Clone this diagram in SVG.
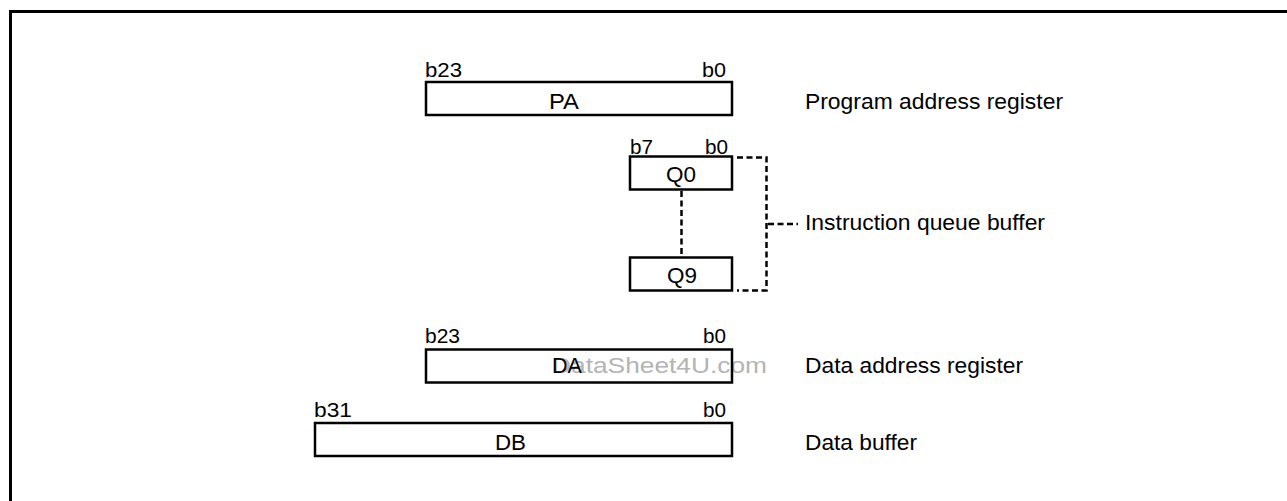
<svg xmlns="http://www.w3.org/2000/svg" width="1287" height="501" viewBox="0 0 1287 501">
<style>
.box{fill:#fff;stroke:#000;stroke-width:2.5}
.t{font-family:"Liberation Sans",Arial,sans-serif;font-size:20px;fill:#000}
.lbl{font-family:"Liberation Sans",Arial,sans-serif;font-size:22px;fill:#000}
.dash{fill:none;stroke:#000;stroke-width:2.5;stroke-dasharray:6 3.5}
.wm{font-family:"Liberation Sans",Arial,sans-serif;font-size:22px;fill:#b4b4b4}
</style>
<rect width="1287" height="501" fill="#fff"/>
<path d="M10.5,501 V11.5 H1287" fill="none" stroke="#000" stroke-width="3"/>

<text class="wm" x="552" y="373" textLength="215" lengthAdjust="spacingAndGlyphs">DataSheet4U.com</text>

<g id="PA">
<rect class="box" x="426" y="82" width="306" height="33"/>
<text class="t" x="425" y="76.5" textLength="37" lengthAdjust="spacingAndGlyphs">b23</text>
<text class="t" x="702" y="76.5" textLength="24" lengthAdjust="spacingAndGlyphs">b0</text>
<text class="lbl" x="549" y="109" textLength="30" lengthAdjust="spacingAndGlyphs">PA</text>
</g>
<g id="Q0">
<rect class="box" x="630" y="156.5" width="102" height="33"/>
<text class="t" x="630" y="153.5" textLength="23" lengthAdjust="spacingAndGlyphs">b7</text>
<text class="t" x="705" y="153.5" textLength="23" lengthAdjust="spacingAndGlyphs">b0</text>
<text class="lbl" x="666" y="181.5" textLength="30" lengthAdjust="spacingAndGlyphs">Q0</text>
</g>
<g id="Q9">
<rect class="box" x="630" y="257.5" width="102" height="33"/>
<text class="lbl" x="667" y="283" textLength="30" lengthAdjust="spacingAndGlyphs">Q9</text>
</g>
<g id="DA">
<rect class="box" x="426" y="349.5" width="306" height="33" style="fill:none"/>
<text class="t" x="425" y="343" textLength="35" lengthAdjust="spacingAndGlyphs">b23</text>
<text class="t" x="703" y="343" textLength="23" lengthAdjust="spacingAndGlyphs">b0</text>
<text class="lbl" x="552" y="373" textLength="30" lengthAdjust="spacingAndGlyphs">DA</text>
</g>
<g id="DB">
<rect class="box" x="315" y="423" width="417" height="33"/>
<text class="t" x="314" y="416.5" textLength="38" lengthAdjust="spacingAndGlyphs">b31</text>
<text class="t" x="703" y="416.5" textLength="23" lengthAdjust="spacingAndGlyphs">b0</text>
<text class="lbl" x="495" y="450" textLength="31" lengthAdjust="spacingAndGlyphs">DB</text>
</g>

<g id="connectors">
<line class="dash" x1="681.5" y1="191" x2="681.5" y2="256"/>
<path class="dash" d="M737,157.5 H766.5 V290.5 H737"/>
<line class="dash" x1="768" y1="224" x2="798" y2="224"/>
</g>

<g id="labels">
<text class="lbl" x="805" y="108.5" textLength="258" lengthAdjust="spacingAndGlyphs">Program address register</text>
<text class="lbl" x="805" y="230" textLength="240" lengthAdjust="spacingAndGlyphs">Instruction queue buffer</text>
<text class="lbl" x="805" y="373" textLength="218" lengthAdjust="spacingAndGlyphs">Data address register</text>
<text class="lbl" x="805" y="450" textLength="112" lengthAdjust="spacingAndGlyphs">Data buffer</text>
</g>
</svg>
